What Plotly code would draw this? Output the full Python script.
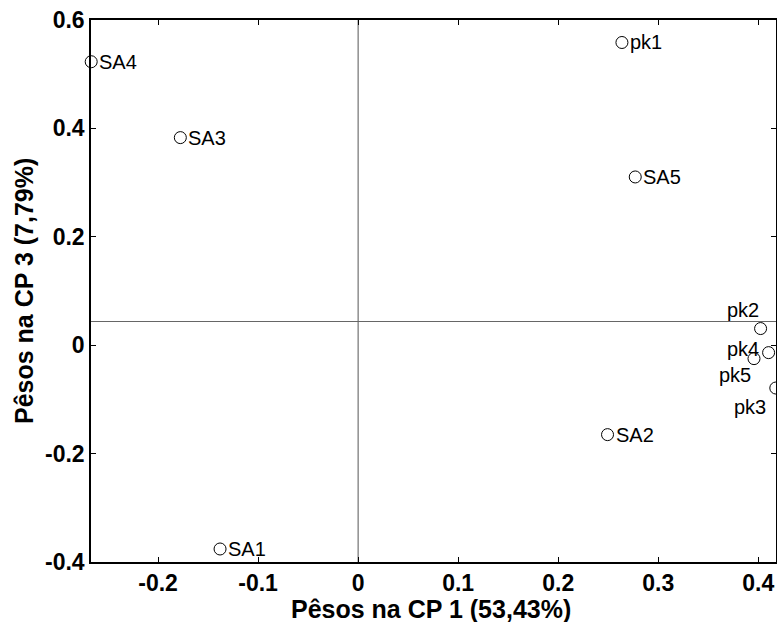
import plotly.graph_objects as go

# ---- data ----
labels = ["SA4", "SA3", "pk1", "SA5", "SA1", "SA2", "pk2", "pk4", "pk5", "pk3"]
cp1 = [-0.2668, -0.1777, 0.2637, 0.2770, -0.1380, 0.2493, 0.4023, 0.4103, 0.3957, 0.4175]
cp3 = [0.5230, 0.3830, 0.5585, 0.3104, -0.3760, -0.1650, 0.0307, -0.0137, -0.0248, -0.0790]
x_ticks = [-0.2, -0.1, 0, 0.1, 0.2, 0.3, 0.4]
x_tick_text = ["-0.2", "-0.1", "0", "0.1", "0.2", "0.3", "0.4"]
y_ticks = [-0.4, -0.2, 0, 0.2, 0.4, 0.6]
y_tick_text = ["-0.4", "-0.2", "0", "0.2", "0.4", "0.6"]
vline_x = 0.0
hline_y = 0.0437
x_title = "Pêsos na CP 1 (53,43%)"
y_title = "Pêsos na CP 3 (7,79%)"

# label offsets in pixels (dx, dy up-positive, anchor)
label_style = {
    "SA4": (6, 0, "left"), "SA3": (6, 0, "left"), "pk1": (6, 0, "left"),
    "SA5": (6, 0, "left"), "SA1": (6, 0, "left"), "SA2": (6, 0, "left"),
    "pk2": (-18, 19, "center"), "pk4": (-26, 4, "center"),
    "pk5": (-19, -16, "center"), "pk3": (-26, -19, "center"),
}

FONT = "Arial, Liberation Sans, sans-serif"

fig = go.Figure()
clip_idx = [i for i, l in enumerate(labels) if l == "pk3"]
free_idx = [i for i in range(len(labels)) if i not in clip_idx]

fig.add_trace(go.Scatter(
    x=[cp1[i] for i in free_idx], y=[cp3[i] for i in free_idx],
    mode="markers", cliponaxis=False,
    marker=dict(symbol="circle-open", size=12, color="black", line=dict(width=1)),
    showlegend=False, hoverinfo="skip"))
fig.add_trace(go.Scatter(
    x=[cp1[i] for i in clip_idx], y=[cp3[i] for i in clip_idx],
    mode="markers", cliponaxis=True,
    marker=dict(symbol="circle-open", size=12, color="black", line=dict(width=1)),
    showlegend=False, hoverinfo="skip"))

for lab, xv, yv in zip(labels, cp1, cp3):
    dx, dy, anc = label_style[lab]
    fig.add_annotation(x=xv, y=yv, text=lab, showarrow=False,
                       xanchor=anc, yanchor="middle", xshift=dx, yshift=dy,
                       font=dict(family=FONT, size=20, color="black"))

fig.add_shape(type="line", xref="x", yref="paper", x0=vline_x, x1=vline_x, y0=0, y1=1,
              line=dict(color="#555555", width=1), layer="below")
fig.add_shape(type="line", xref="paper", yref="y", x0=0, x1=1, y0=hline_y, y1=hline_y,
              line=dict(color="#666666", width=1), layer="below")

# axis titles
fig.add_annotation(xref="paper", yref="paper", x=0.5, y=0, text=x_title, showarrow=False,
                   xanchor="center", yanchor="middle", xshift=-3, yshift=-47,
                   font=dict(family=FONT, size=25, color="black", weight="bold"))
fig.add_annotation(xref="paper", yref="paper", x=0, y=0.5, text=y_title, showarrow=False,
                   textangle=-90, xanchor="center", yanchor="middle", xshift=-67, yshift=0,
                   font=dict(family=FONT, size=25, color="black", weight="bold"))

axis_common = dict(showgrid=False, zeroline=False, showline=True, linecolor="black",
                   linewidth=1.5, mirror="ticks", ticks="inside", ticklen=5,
                   tickcolor="black", tickwidth=1, automargin=False,
                   tickfont=dict(family=FONT, size=23, color="black", weight="bold"))

fig.update_xaxes(range=[-0.267, 0.4177], tickvals=x_ticks, ticktext=x_tick_text,
                 **axis_common)
fig.update_yaxes(range=[-0.4, 0.6], tickvals=y_ticks, ticktext=y_tick_text,
                 **axis_common)

fig.update_layout(width=777, height=622, paper_bgcolor="white", plot_bgcolor="white",
                  margin=dict(l=91, r=1, t=20, b=60))

fig.write_html("out.html", config={"displayModeBar": False},
               post_script="document.body.style.margin='0px';document.body.style.overflow='hidden';")
